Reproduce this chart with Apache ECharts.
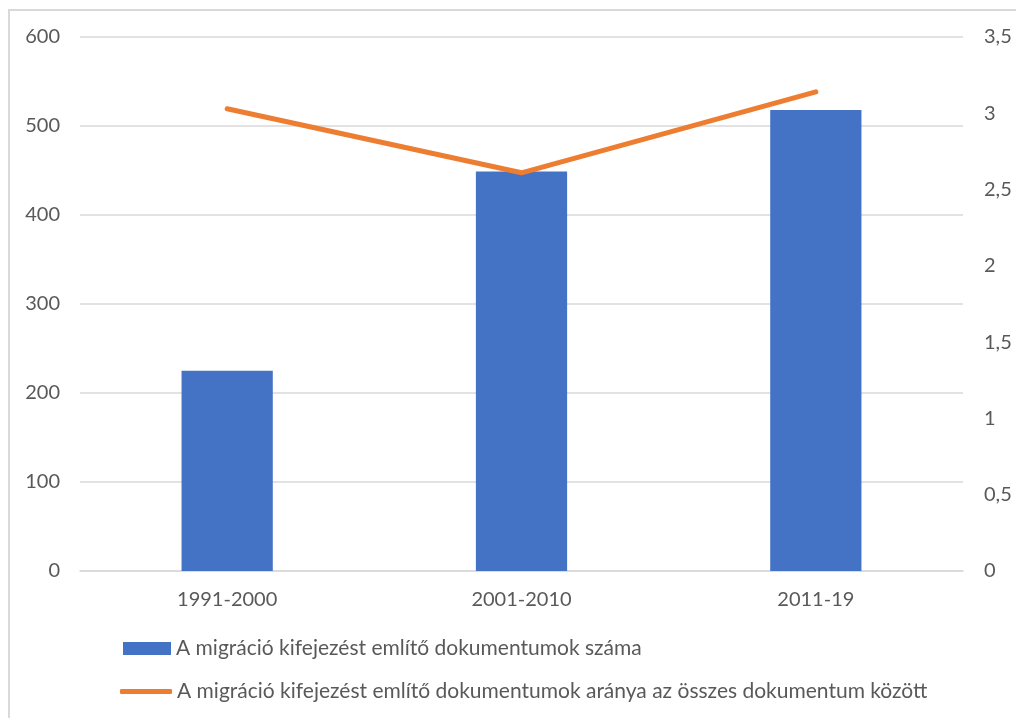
<!DOCTYPE html>
<html>
<head>
<meta charset="utf-8">
<script src="https://cdn.jsdelivr.net/npm/echarts@6/dist/echarts.min.js"></script>
<style>
  html, body { margin: 0; padding: 0; background: #fff; }
  #chart { width: 1016px; height: 718px; }
</style>
</head>
<body>
<div id="chart"></div>
<script>
// Periods on the category axis
const periods = ['1991-2000', '2001-2010', '2011-19'];
// Number of documents mentioning "migráció" (left axis)
const docCounts = [225, 449, 518];
// Share of those documents among all documents, % (right axis)
const docShares = [3.03, 2.61, 3.14];
// Series names
const countName = 'A migráció kifejezést említő dokumentumok száma';
const shareName = 'A migráció kifejezést említő dokumentumok aránya az összes dokumentum között';

const FONT = 'Lato, "Liberation Sans", sans-serif';
const TEXT = '#595959';
const GRID = '#d9d9d9';
const FS = 20;
const LEGEND_FS = 21;

const chart = echarts.init(document.getElementById('chart'), null, { renderer: 'canvas' });

chart.setOption({
  animation: false,
  backgroundColor: '#fff',
  textStyle: { fontFamily: FONT },
  graphic: [{
    type: 'polyline',
    shape: { points: [[9, 718], [9, 10], [1016, 10]] },
    style: { stroke: GRID, lineWidth: 2, fill: null }
  }],
  grid: { left: 80, right: 53, top: 37, bottom: 147 },
  legend: [{
    orient: 'vertical',
    left: 123,
    top: 638,
    padding: 0,
    icon: 'rect',
    itemWidth: 48,
    itemHeight: 13,
    data: [countName],
    textStyle: { color: TEXT, fontSize: LEGEND_FS, fontFamily: FONT }
  }, {
    orient: 'vertical',
    left: 120,
    top: 681,
    padding: 0,
    icon: 'roundRect',
    itemWidth: 52,
    itemHeight: 5,
    data: [shareName],
    textStyle: { color: TEXT, fontSize: LEGEND_FS, fontFamily: FONT }
  }],
  xAxis: {
    type: 'category',
    data: periods,
    axisLine: { lineStyle: { color: GRID, width: 1.5 } },
    axisTick: { show: false },
    axisLabel: { color: TEXT, fontSize: FS, margin: 19, fontFamily: FONT }
  },
  yAxis: [{
    type: 'value',
    min: 0, max: 600, interval: 100,
    axisLine: { show: false },
    axisTick: { show: false },
    splitLine: { lineStyle: { color: GRID, width: 1.5 } },
    axisLabel: { color: TEXT, fontSize: FS, margin: 20, fontFamily: FONT }
  }, {
    type: 'value',
    position: 'right',
    min: 0, max: 3.5, interval: 0.5,
    axisLine: { show: false },
    axisTick: { show: false },
    splitLine: { show: false },
    axisLabel: {
      color: TEXT, fontSize: FS, margin: 21, fontFamily: FONT,
      formatter: v => String(v).replace('.', ',')
    }
  }],
  series: [{
    name: countName,
    type: 'bar',
    yAxisIndex: 0,
    data: docCounts,
    barWidth: '31%',
    itemStyle: { color: '#4472C4' }
  }, {
    name: shareName,
    type: 'line',
    yAxisIndex: 1,
    data: docShares,
    symbol: 'none',
    lineStyle: { color: '#ED7D31', width: 5, cap: 'round', join: 'round' },
    itemStyle: { color: '#ED7D31' }
  }]
});
</script>
</body>
</html>
